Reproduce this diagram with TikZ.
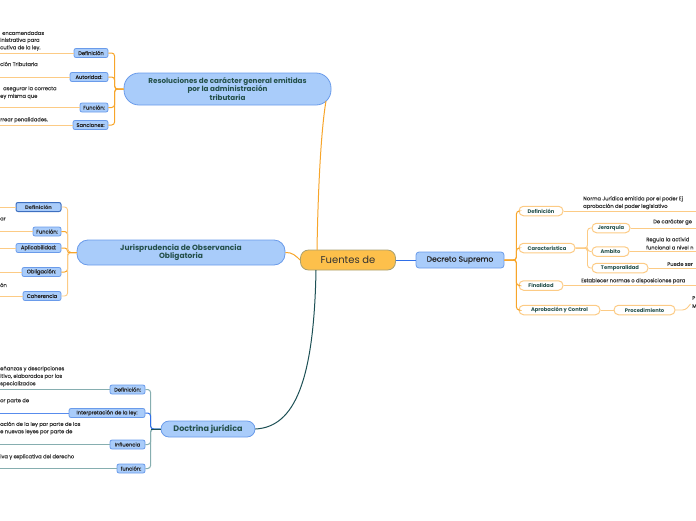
\documentclass[tikz,border=0pt]{standalone}
\usepackage{fontspec}
\setmainfont{Poppins}
\newfontfamily\medfont[FakeBold=0.5]{Poppins}
\definecolor{bfill}{HTML}{A9CCFA}
\definecolor{bdraw}{HTML}{6A9BEA}
\definecolor{bdark}{HTML}{3D6FC0}
\definecolor{ofill}{HTML}{FDC04B}
\definecolor{odraw}{HTML}{A8A070}
\definecolor{oline}{HTML}{F7A52A}
\definecolor{olight}{HTML}{FCCB85}
\definecolor{teal}{HTML}{1D5055}
\definecolor{tline}{HTML}{86AEB0}
\definecolor{bline}{HTML}{2F6FE8}
\definecolor{txt}{HTML}{3A3A3A}
\definecolor{ttxt}{HTML}{24504A}
\tikzset{
  mainbox/.style={draw=bdraw, fill=bfill, line width=0.8pt, align=center, inner sep=0pt,
     font=\fontsize{7.2}{8.6}\selectfont\bfseries, text=ttxt},
  bchild/.style={draw=bdraw, fill=bfill, line width=0.8pt, rounded corners=2pt, inner sep=0pt,
     minimum height=9pt, font=\fontsize{5.2}{6}\selectfont\medfont, text=black!85},
  ochild/.style={draw=olight, fill=white, line width=1pt, rounded corners=4.5pt, inner sep=0pt,
     minimum height=9.5pt, font=\fontsize{5.2}{6}\selectfont\bfseries, text=ttxt},
  frag/.style={anchor=west, inner sep=0pt, font=\fontsize{5.2}{6}\selectfont\medfont, text=txt},
  obranch/.style={draw=oline, line width=1pt, rounded corners=3pt},
  olite/.style={draw=olight, line width=0.9pt, rounded corners=3pt},
  tbranch/.style={draw=tline, line width=1pt, rounded corners=3pt},
}
\begin{document}
\begin{tikzpicture}[x=1pt, y=-1pt]
\useasboundingbox (0,0) rectangle (696,520);
\clip (0,0) rectangle (696,520);
\coordinate (L) at (0,0);
\coordinate (R) at (696,0);

% central
\node[draw=odraw, fill=ofill, line width=0.8pt, rounded corners=8pt, minimum width=95pt, minimum height=20pt,
  inner sep=0pt, font=\fontsize{10}{12}\selectfont, text=black!80] (fu) at (348,260) {Fuentes de};

% main nodes
\node[mainbox, rounded corners=15pt, minimum width=207pt, minimum height=32pt] (res) at (227.5,89)
  {Resoluciones de carácter general emitidas\\por la administración\\tributaria};
\node[mainbox, rounded corners=11pt, minimum width=208pt, minimum height=25pt, font=\fontsize{7.5}{8.8}\selectfont\bfseries] (jur) at (181,252.5)
  {Jurisprudencia de Observancia\\Obligatoria};
\node[mainbox, rounded corners=8pt, minimum width=94pt, minimum height=16pt, font=\fontsize{8}{9}\selectfont\bfseries] (doc) at (208,429)
  {Doctrina jurídica};
\node[draw=bdraw, fill=bfill, line width=0.8pt, rounded corners=3pt, minimum width=88pt, minimum height=16pt,
  inner sep=0pt, font=\fontsize{7.6}{9}\selectfont\medfont, text=black!85] (dec) at (460,260) {Decreto Supremo};

% main connectors
\draw[oline, line width=1pt] (317,250) .. controls (318,190) and (321,130) .. (326,101);
\draw[oline, line width=1pt] (jur.east) .. controls (292,252) and (296,256) .. (fu.west);
\draw[teal, line width=1pt] (316,270) .. controls (314,380) and (295,427) .. (doc.east);
\draw[bline, line width=1pt] (fu.east) -- (dec.west);

% Resoluciones children
\node[bchild, minimum width=34pt] (rdef) at (91,53) {Definición};
\node[bchild, minimum width=38pt] (raut) at (89,77) {Autoridad:};
\node[bchild, minimum width=28pt] (rfun) at (94,107.5) {Función:};
\node[bchild, minimum width=35pt] (rsan) at (90.5,125) {Sanciones:};
\foreach \c in {rdef,raut,rfun,rsan} {
  \draw[obranch] (res.west) -- ++(-9,0) |- (\c.east);
  \draw[olite] (\c.west) -- (\c.west -| L);
}
\node[frag] (t1) at (2,33) {encamendadas};
\node[frag] (t2) at (0,40.5) {inistrativa para};
\node[frag] (t3) at (0,48) {cutiva de la ley.};
\node[frag] (t4) at (0,64) {ción Tributaria};
\node[frag] (t5) at (3,89) {asegurar la correcta};
\node[frag] (t6) at (0,96.5) {ey misma que};
\node[frag] (t7) at (0,120) {rrear penalidades.};

% Jurisprudencia children
\node[bchild, draw=bdark, line width=1pt, minimum width=45pt, font=\fontsize{5.2}{6}\selectfont\bfseries] (jdef) at (38.5,207) {Definición};
\node[bchild, minimum width=28pt] (jfun) at (47,231.5) {Función:};
\node[bchild, minimum width=45pt] (japl) at (38.5,248) {Aplicabilidad:};
\node[bchild, minimum width=39pt] (jobl) at (41.5,272) {Obligación:};
\node[bchild, minimum width=38pt] (jcoh) at (42,296) {Coherencia};
\foreach \c in {jfun,japl,jobl} {
  \draw[obranch] (jur.west) -- ++(-9,0) |- (\c.east);
  \draw[olite] (\c.west) -- (\c.west -| L);
}
\foreach \c in {jdef,jcoh} {
  \draw[olite] (jur.west) -- ++(-9,0) |- (\c.east);
  \draw[olite] (\c.west) -- (\c.west -| L);
}
\draw[obranch] (jur.west) -- ++(-9,0);
\node[frag] (t8) at (0,219) {ar};
\node[frag] (t9) at (0,285) {ón};

% Doctrina children
\node[bchild, minimum width=35pt] (ddef) at (127.5,389.5) {Definición:};
\node[bchild, minimum width=76pt] (dint) at (107,413) {Interpretación de la ley:};
\node[bchild, minimum width=35pt] (dinf) at (127.5,444.5) {Influencia};
\node[bchild, minimum width=28pt] (dfun) at (131,468.5) {función:};
\foreach \c in {ddef,dinf,dfun} {
  \draw[tbranch] (doc.west) -- ++(-10,0) |- (\c.east);
  \draw[tline, line width=0.9pt] (\c.west) -- (\c.west -| L);
}
\draw[bline, line width=1pt, rounded corners=3pt] (doc.west) -- ++(-10,0) |- (dint.east);
\draw[bline!80!white, line width=0.9pt] (dint.west) -- (dint.west -| L);
\draw[teal, line width=1pt] (doc.west) -- ++(-10,0);
\node[frag] (t10) at (0,369) {eñanzas y descripciones};
\node[frag] (t11) at (0,376.5) {itivo, elaborados por los};
\node[frag] (t12) at (0,384) {specializados};
\node[frag] (t13) at (0,401) {or parte de};
\node[frag] (t14) at (0,424.5) {ación de la ley por parte de los};
\node[frag] (t15) at (0,432) {e nuevas leyes por parte de};
\node[frag] (t16) at (0,457) {iva y explicativa del derecho};

% Decreto Supremo children
\node[ochild, minimum width=44pt] (sdef) at (541,211) {Definición};
\node[ochild, minimum width=56pt] (scar) at (547,248) {Característica};
\node[ochild, minimum width=44pt] (sfin) at (541,285.5) {Finalidad};
\node[ochild, minimum width=81pt] (sapr) at (559.5,310) {Aprobación y Control};
\node[ochild, minimum width=61pt] (sproc) at (644.5,310) {Procedimiento};
\node[ochild, minimum width=38pt] (sjer) at (611,228) {Jerarquía};
\node[ochild, minimum width=37pt] (samb) at (610.5,251.5) {Ambito};
\node[ochild, minimum width=56pt] (stem) at (620,268) {Temporalidad};
\foreach \c in {sdef,scar,sfin,sapr} {
  \draw[obranch] (dec.east) -- ++(12,0) |- (\c.west);
}
\foreach \c in {sjer,samb,stem} {
  \draw[olite] (scar.east) -- ++(12,0) |- (\c.west);
  \draw[olite] (\c.east) -- (\c.east -| R);
}
\draw[olite] (scar.east) -- ++(12,0);
\draw[olite] (sdef.east) -- (sdef.east -| R);
\draw[olite] (sfin.east) -- (sfin.east -| R);
\draw[olite] (sapr.east) -- (sproc.west);
\draw[olite] (sproc.east) -- ++(10,0) -- ++(5,-6);
\node[frag] (u1) at (583,199) {Norma Jurídica emitida por el poder Ej};
\node[frag] (u2) at (583,206.5) {aprobación del poder legislativo};
\node[frag] (u3) at (653,222) {De carácter ge};
\node[frag] (u4) at (646,240) {Regula la activid};
\node[frag] (u5) at (646,247.5) {funcional a nivel n};
\node[frag] (u6) at (667,264) {Puede ser};
\node[frag] (u7) at (581,281) {Establecer normas o disposiciones para};
\node[frag] (u8) at (692,298) {P};
\node[frag] (u9) at (692,306) {M};
\end{tikzpicture}
\end{document}
